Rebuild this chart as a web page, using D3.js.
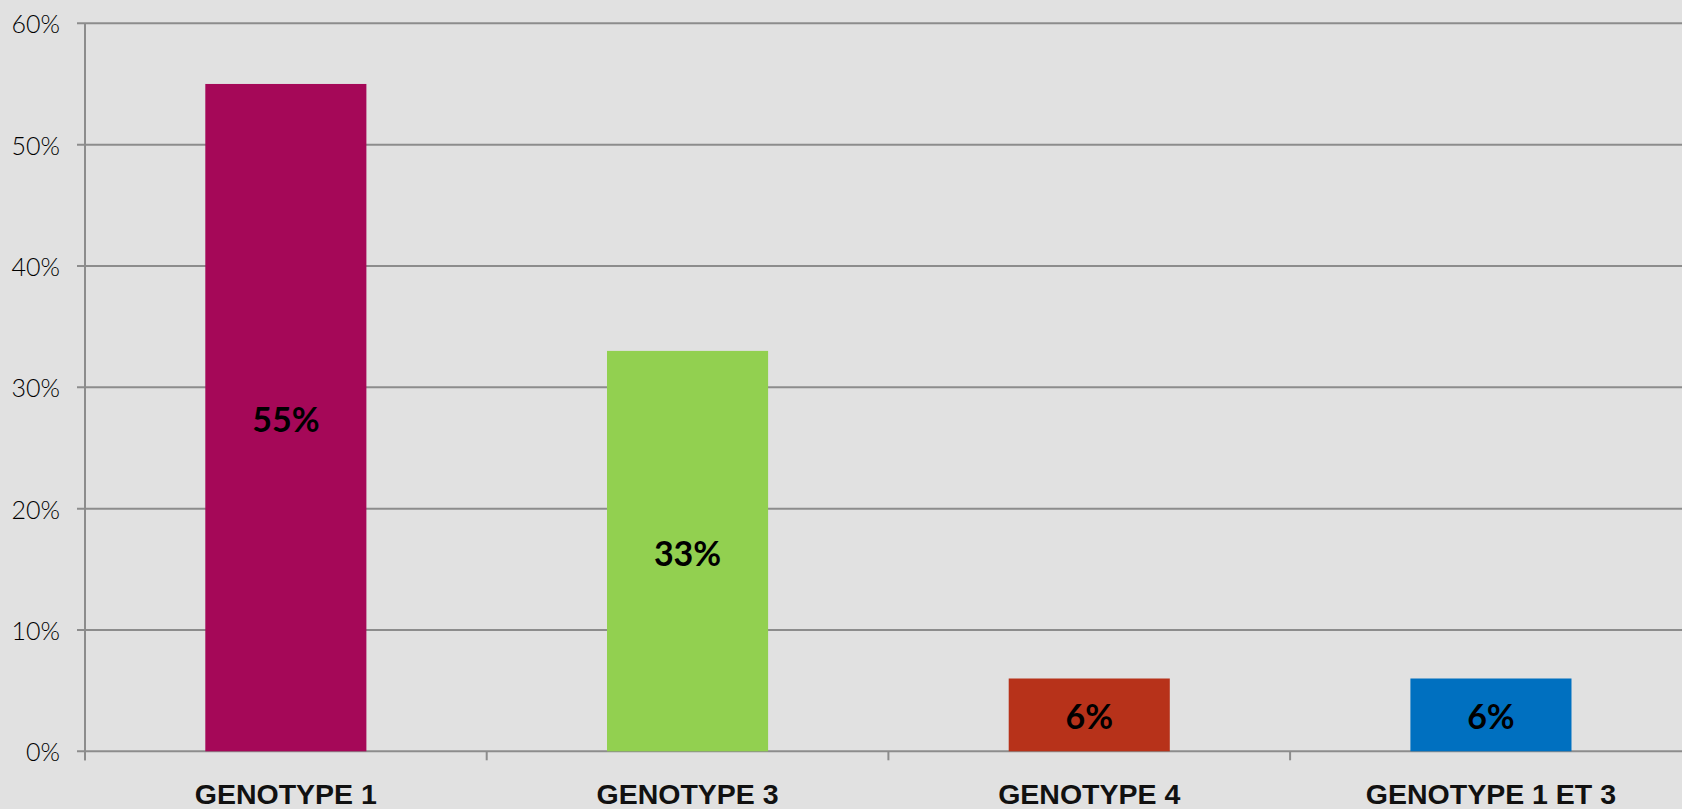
<!DOCTYPE html>
<html>
<head>
<meta charset="utf-8">
<script src="https://cdn.jsdelivr.net/npm/d3@7"></script>
<style>
  html, body { margin: 0; padding: 0; background: #e1e1e1; overflow: hidden; }
  svg { display: block; }
</style>
</head>
<body>
<svg id="chart" width="1682" height="809"></svg>
<script>
const categories = ["GENOTYPE 1", "GENOTYPE 3", "GENOTYPE 4", "GENOTYPE 1 ET 3"];
const values = [0.55, 0.33, 0.06, 0.06];
const valueLabels = ["55%", "33%", "6%", "6%"];
const barColors = ["#a50858", "#92d050", "#b7321a", "#0070c0"];
const yTickValues = [0, 0.1, 0.2, 0.3, 0.4, 0.5, 0.6];

(function () {
const W = 1682, H = 809;
const plotLeft = 85, plotTop = 23.3, plotBottom = 751.3;
const step = 401.7;

const svg = d3.select("#chart");
svg.append("rect").attr("width", W).attr("height", H).attr("fill", "#e1e1e1");

const y = d3.scaleLinear().domain([0, 0.6]).range([plotBottom, plotTop]);
const x = d3.scaleBand().domain(categories)
  .range([plotLeft, plotLeft + step * categories.length])
  .paddingInner(0.599).paddingOuter(0.2995);

const gridColor = "#8c8c8c";

// gridlines
svg.append("g").selectAll("line").data(yTickValues).join("line")
  .attr("x1", plotLeft - 8).attr("x2", W)
  .attr("y1", d => y(d)).attr("y2", d => y(d))
  .attr("stroke", gridColor).attr("stroke-width", 2);

// y labels
svg.append("g").selectAll("text").data(yTickValues).join("text")
  .attr("x", 60).attr("y", d => y(d))
  .attr("text-anchor", "end").attr("dominant-baseline", "central")
  .attr("font-family", "Lato, 'Noto Sans', sans-serif")
  .attr("font-weight", 300)
  .attr("font-size", 25).attr("fill", "#000")
  .text(d3.format(".0%"));

// vertical axis line
svg.append("line").attr("x1", plotLeft).attr("x2", plotLeft)
  .attr("y1", plotTop).attr("y2", plotBottom + 9)
  .attr("stroke", gridColor).attr("stroke-width", 2);

// x tick marks at category boundaries
const boundaries = categories.map((c, i) => plotLeft + step * i);
svg.append("g").selectAll("line").data(boundaries).join("line")
  .attr("x1", d => d).attr("x2", d => d)
  .attr("y1", plotBottom).attr("y2", plotBottom + 9)
  .attr("stroke", gridColor).attr("stroke-width", 2);

// bars
const data = categories.map((c, i) => ({c, v: values[i], label: valueLabels[i], color: barColors[i]}));
svg.append("g").selectAll("rect").data(data).join("rect")
  .attr("x", d => x(d.c)).attr("width", x.bandwidth())
  .attr("y", d => y(d.v)).attr("height", d => y(0) - y(d.v))
  .attr("fill", d => d.color);

// value labels
svg.append("g").selectAll("text").data(data).join("text")
  .attr("x", d => x(d.c) + x.bandwidth() / 2)
  .attr("y", d => (y(d.v) + y(0)) / 2 + 1)
  .attr("text-anchor", "middle").attr("dominant-baseline", "central")
  .attr("font-family", "Lato, 'Noto Sans', sans-serif")
  .attr("font-weight", 700).attr("font-size", 34).attr("fill", "#000")
  .text(d => d.label);

// category labels
svg.append("g").selectAll("text").data(categories).join("text")
  .attr("x", d => x(d) + x.bandwidth() / 2)
  .attr("y", 804)
  .attr("text-anchor", "middle")
  .attr("font-family", "'Liberation Sans', Arial, sans-serif")
  .attr("font-weight", 700).attr("font-size", 28.5).attr("fill", "#111")
  .text(d => d);
})();
</script>
</body>
</html>
